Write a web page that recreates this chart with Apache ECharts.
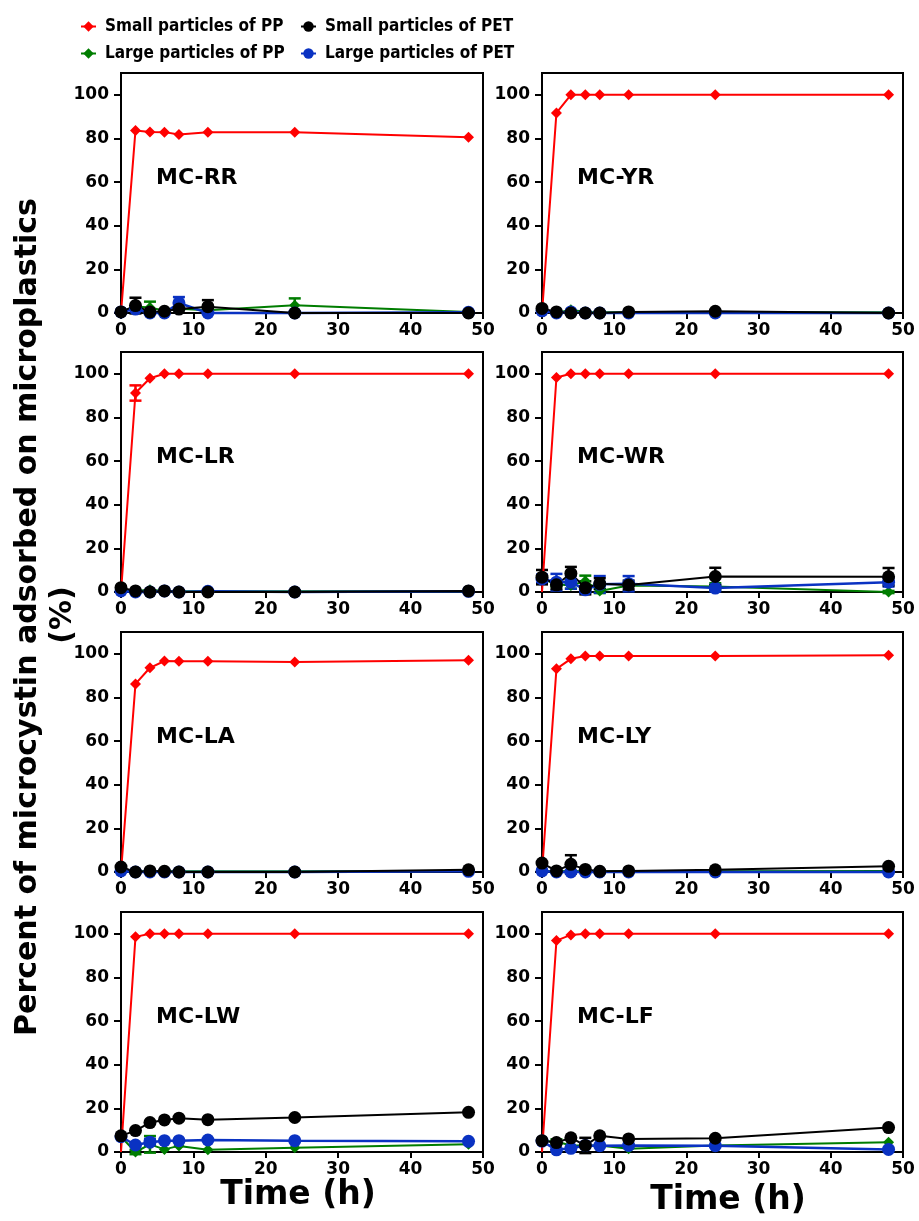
<!DOCTYPE html>
<html>
<head>
<meta charset="utf-8">
<title>Microcystin adsorption on microplastics</title>
<script src="https://cdn.jsdelivr.net/npm/echarts@6/dist/echarts.min.js"></script>
<style>
  html, body { margin: 0; padding: 0; background: #fff; }
  #chart { width: 919px; height: 1221px; }
</style>
</head>
<body>
<div id="chart"></div>
<script>
// sampling times (h)
var times = [0, 2, 4, 6, 8, 12, 24, 48];
var panels = ['MC-RR', 'MC-YR', 'MC-LR', 'MC-WR', 'MC-LA', 'MC-LY', 'MC-LW', 'MC-LF'];
var seriesNames = ['Small particles of PP', 'Large particles of PP', 'Small particles of PET', 'Large particles of PET'];
var yTicks = [0, 20, 40, 60, 80, 100];

// small particles of PP (red)
var smallPP = [
  [0, 83.7, 83.0, 82.9, 81.8, 82.8, 82.8, 80.5],
  [0, 91.7, 100, 100, 100, 100, 100, 100],
  [0, 91.2, 98.0, 100, 100, 100, 100, 100],
  [0, 98.3, 100, 100, 100, 100, 100, 100],
  [0, 86.2, 93.6, 96.7, 96.6, 96.6, 96.2, 97.0],
  [0, 93.1, 97.7, 99.0, 99.0, 99.0, 99.0, 99.3],
  [0, 98.6, 100, 100, 100, 100, 100, 100],
  [0, 96.9, 99.5, 100, 100, 100, 100, 100]
];
var smallPPErr = [
  [0, 0, 0, 0, 0, 0, 0, 0],
  [0, 0, 0, 0, 0, 0, 0, 0],
  [0, 3.5, 0, 0, 0, 0, 0, 0],
  [0, 0, 0, 0, 0, 0, 0, 0],
  [0, 0, 0, 0, 0, 0, 0, 0],
  [0, 0, 0, 0, 0, 0, 0, 0],
  [0, 0, 0, 0, 0, 0, 0, 0],
  [0, 0, 0, 0, 0, 0, 0, 0]
];
// large particles of PP (green)
var largePP = [
  [0.5, 3.0, 2.5, 1.0, 2.0, 1.3, 3.5, 0.5],
  [1.0, 0, 1.5, 0.5, 0.3, 0.3, 0.3, 0.3],
  [0.5, 0.5, 1.0, 0.5, 0.3, 0.3, 0.3, 0.3],
  [6.0, 3.5, 3.0, 5.0, 0.5, 3.0, 2.5, 0],
  [0.5, 0.3, 0.3, 0.3, 0.3, 0.3, 0.3, 0.5],
  [0.5, 0.3, 0.5, 0.3, 0.3, 0.3, 0.3, 0.5],
  [7.0, 0, 3.5, 1.2, 2.8, 1.0, 2.0, 3.5],
  [5.0, 4.8, 3.0, 3.0, 3.0, 1.5, 3.0, 4.5]
];
var largePPErr = [
  [0, 0, 2.7, 0, 0, 0, 3.2, 0],
  [0, 0, 0, 0, 0, 0, 0, 0],
  [0, 0, 0, 0, 0, 0, 0, 0],
  [0, 1.0, 1.5, 2.5, 1.0, 0, 1.5, 0.5],
  [0, 0, 0, 0, 0, 0, 0, 0],
  [0, 0, 0, 0, 0, 0, 0, 0],
  [0, 1.0, 3.8, 0, 0, 0, 0, 0],
  [0, 1.0, 0, 0, 0, 0, 0, 0]
];
// small particles of PET (black)
var smallPET = [
  [0.5, 3.4, 0.5, 0.8, 1.8, 2.9, 0, 0],
  [2.1, 0.5, 0, 0, 0, 0.5, 0.8, 0],
  [2.0, 0.5, 0, 0.5, 0, 0, 0, 0.5],
  [6.8, 3.3, 8.5, 1.9, 3.8, 3.2, 7.1, 7.0],
  [2.3, 0, 0.5, 0.3, 0, 0, 0, 1.0],
  [4.1, 0.5, 3.5, 1.2, 0.3, 0.5, 1.0, 2.6],
  [7.4, 9.8, 13.5, 14.7, 15.5, 14.8, 15.8, 18.2],
  [5.2, 4.3, 6.5, 3.0, 7.4, 6.0, 6.3, 11.2]
];
var smallPETErr = [
  [0, 3.6, 0, 0, 0, 3.0, 0, 0],
  [0, 0, 0, 0, 0, 0, 0, 0],
  [0, 0, 0, 0, 0, 0, 0, 0],
  [3.3, 2.0, 3.0, 3.0, 2.5, 2.0, 4.0, 4.0],
  [0, 0, 0, 0, 0, 0, 0, 0],
  [0, 0, 4.2, 0, 0, 0, 0, 0],
  [0, 0, 0, 0, 0, 0, 0, 0],
  [0, 0, 0, 3.5, 0, 0, 0, 0]
];
// large particles of PET (blue)
var largePET = [
  [0.5, 1.8, 0, 0, 4.6, 0, 0, 0.3],
  [1.0, 0, 0.5, 0, 0, 0, 0, 0],
  [0.5, 0, 0, 0.5, 0, 0.3, 0, 0.3],
  [6.0, 4.5, 4.5, 1.0, 3.5, 3.8, 1.8, 4.5],
  [0.5, 0, 0, 0, 0, 0, 0, 0.3],
  [0.5, 0, 0, 0, 0, 0, 0, 0],
  [7.0, 3.2, 4.5, 5.2, 5.2, 5.5, 5.2, 4.9],
  [5.0, 1.0, 1.7, 3.0, 2.9, 3.0, 2.9, 1.2]
];
var largePETErr = [
  [0, 0, 0, 0, 2.7, 0, 0, 0],
  [0, 0, 0, 0, 0, 0, 0, 0],
  [0, 0, 0, 0, 0, 0, 0, 0],
  [2.0, 3.8, 3.0, 1.5, 3.8, 3.5, 1.5, 2.0],
  [0, 0, 0, 0, 0, 0, 0, 0],
  [0, 0, 0, 0, 0, 0, 0, 0],
  [0, 0, 1.5, 0, 0, 0, 0, 0],
  [0, 0, 0, 0, 0, 0, 0, 0]
];

var chart = echarts.init(document.getElementById('chart'));

var lefts = [121, 542];
var widths = [362, 361];
var tops = [73, 352, 632, 912];
var tickFont = { fontFamily: 'DejaVu Sans', fontWeight: 'bold', fontSize: 17, color: '#000' };

var grids = [], xAxes = [], yAxes = [], series = [], graphics = [];

function errBars(idx, vals, errs, color) {
  return {
    type: 'custom',
    xAxisIndex: idx,
    yAxisIndex: idx,
    silent: true,
    clip: false,
    data: times.map(function (t, i) { return [t, vals[i], errs[i]]; })
      .filter(function (d) { return d[2] > 0; }),
    renderItem: function (params, api) {
      var x = api.value(0), y = api.value(1), e = api.value(2);
      var hi = api.coord([x, y + e]);
      var lo = api.coord([x, y - e]);
      var w = 6;
      var st = { stroke: color, lineWidth: 2.5 };
      return {
        type: 'group',
        children: [
          { type: 'line', shape: { x1: hi[0], y1: hi[1], x2: lo[0], y2: lo[1] }, style: st },
          { type: 'line', shape: { x1: hi[0] - w, y1: hi[1], x2: hi[0] + w, y2: hi[1] }, style: st },
          { type: 'line', shape: { x1: lo[0] - w, y1: lo[1], x2: lo[0] + w, y2: lo[1] }, style: st }
        ]
      };
    }
  };
}

function lineSeries(idx, name, vals, color, symbol, size, lw, hideFirst) {
  return {
    type: 'line',
    name: name,
    xAxisIndex: idx,
    yAxisIndex: idx,
    clip: false,
    symbol: symbol,
    symbolSize: size,
    showAllSymbol: true,
    itemStyle: { color: color },
    lineStyle: { color: color, width: lw },
    data: times.map(function (t, i) {
      if (hideFirst && i === 0) return { value: [t, vals[i]], symbol: 'none' };
      return [t, vals[i]];
    })
  };
}

panels.forEach(function (label, idx) {
  var col = idx % 2, row = Math.floor(idx / 2);
  grids.push({
    left: lefts[col], top: tops[row], width: widths[col], height: 240,
    show: true, borderColor: '#000', borderWidth: 2
  });
  xAxes.push({
    type: 'value', gridIndex: idx, min: 0, max: 50, interval: 10,
    axisLine: { show: true, onZero: false, lineStyle: { color: '#000', width: 2 } },
    axisTick: { show: true, length: 6, lineStyle: { color: '#000', width: 2 } },
    axisLabel: Object.assign({ margin: 9 }, tickFont),
    splitLine: { show: false }
  });
  yAxes.push({
    type: 'value', gridIndex: idx, min: 0, max: 110,
    axisLine: { show: true, onZero: false, lineStyle: { color: '#000', width: 2 } },
    axisTick: { show: true, length: 7, customValues: yTicks, lineStyle: { color: '#000', width: 2 } },
    axisLabel: Object.assign({ margin: 12, customValues: yTicks }, tickFont),
    splitLine: { show: false }
  });

  series.push(errBars(idx, smallPP[idx], smallPPErr[idx], '#ff0000'));
  series.push(lineSeries(idx, seriesNames[0], smallPP[idx], '#ff0000', 'diamond', [11, 11], 2, true));
  series.push(errBars(idx, largePP[idx], largePPErr[idx], '#007d00'));
  series.push(lineSeries(idx, seriesNames[1], largePP[idx], '#007d00', 'diamond', [11, 11], 2));
  series.push(errBars(idx, largePET[idx], largePETErr[idx], '#0a32c2'));
  series.push(lineSeries(idx, seriesNames[3], largePET[idx], '#0a32c2', 'circle', 13, 2.5));
  series.push(errBars(idx, smallPET[idx], smallPETErr[idx], '#000000'));
  series.push(lineSeries(idx, seriesNames[2], smallPET[idx], '#000000', 'circle', 13, 2));

  graphics.push({
    type: 'text',
    left: lefts[col] + 35,
    top: tops[row] + 94,
    style: { text: label, font: 'bold 22px "DejaVu Sans"', fill: '#000' }
  });
});

graphics.push({
  type: 'text',
  x: 28, y: 617, rotation: Math.PI / 2,
  style: {
    text: 'Percent of microcystin adsorbed on microplastics',
    font: 'bold 30px "DejaVu Sans"', fill: '#000',
    align: 'center', verticalAlign: 'middle',
    textAlign: 'center', textVerticalAlign: 'middle'
  }
});
graphics.push({
  type: 'text',
  x: 63, y: 615, rotation: Math.PI / 2,
  style: {
    text: '(%)',
    font: 'bold 30px "DejaVu Sans"', fill: '#000',
    align: 'center', verticalAlign: 'middle',
    textAlign: 'center', textVerticalAlign: 'middle'
  }
});
graphics.push({
  type: 'text', x: 298, y: 1195,
  style: {
    text: 'Time (h)', font: 'bold 33px "DejaVu Sans"', fill: '#000',
    align: 'center', verticalAlign: 'middle',
    textAlign: 'center', textVerticalAlign: 'middle'
  }
});
graphics.push({
  type: 'text', x: 728, y: 1200,
  style: {
    text: 'Time (h)', font: 'bold 33px "DejaVu Sans"', fill: '#000',
    align: 'center', verticalAlign: 'middle',
    textAlign: 'center', textVerticalAlign: 'middle'
  }
});

var legendText = {
  fontFamily: '"DejaVu Sans Condensed", "Liberation Sans", sans-serif',
  fontWeight: 'bold', fontSize: 17,
  color: '#000', padding: [0, 0, 0, 4]
};

var option = {
  animation: false,
  backgroundColor: '#fff',
  legend: [
    {
      orient: 'vertical', left: 75, top: 13, itemGap: 10,
      itemWidth: 15, itemHeight: 13,
      data: [seriesNames[0], seriesNames[1]],
      textStyle: legendText
    },
    {
      orient: 'vertical', left: 295, top: 13, itemGap: 10,
      itemWidth: 15, itemHeight: 13,
      data: [seriesNames[2], seriesNames[3]],
      textStyle: legendText
    }
  ],
  grid: grids,
  xAxis: xAxes,
  yAxis: yAxes,
  series: series,
  graphic: graphics
};
chart.setOption(option);
</script>
</body>
</html>
